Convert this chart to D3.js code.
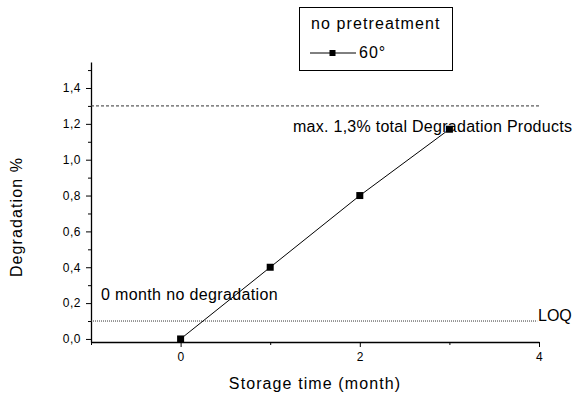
<!DOCTYPE html>
<html>
<head>
<meta charset="utf-8">
<script src="https://cdn.jsdelivr.net/npm/d3@7"></script>
<style>
  html, body { margin: 0; padding: 0; background: #fff; }
  svg { display: block; font-family: "Liberation Sans", Arial, sans-serif; }
</style>
</head>
<body>
<svg id="chart" width="574" height="396"></svg>
<script>
// Degradation over storage time, no pretreatment, 60°
const months = [0, 1, 2, 3];
const degradation = [0, 0.40, 0.80, 1.17];
const xMajorTicks = [0, 2, 4];
const xMinorTicks = [-1, 1, 3];
const yMajorTicks = [0, 0.2, 0.4, 0.6, 0.8, 1.0, 1.2, 1.4];
const yMinorTicks = [0.1, 0.3, 0.5, 0.7, 0.9, 1.1, 1.3, 1.5];
const limitMax = 1.3;   // max. total degradation products
const limitLOQ = 0.1;   // limit of quantification
const seriesName = "60°";
const legendTitle = "no pretreatment";

const svg = d3.select("#chart");

const x = d3.scaleLinear().domain([-1, 4]).range([91, 539]);
const y = d3.scaleLinear().domain([-0.017, 1.545]).range([342, 62]);

const fmtY = d => d.toFixed(1).replace(".", ",");
const fmtX = d3.format("d");

// axes
const gx = svg.append("g").attr("transform", `translate(0,${y.range()[0]})`);
gx.call(d3.axisBottom(x).tickValues(xMajorTicks).tickFormat(fmtX)
  .tickSize(5).tickSizeOuter(0).tickPadding(5));
gx.append("g").call(d3.axisBottom(x).tickValues(xMinorTicks).tickSize(3).tickFormat(""))
  .select(".domain").remove();

const gy = svg.append("g").attr("transform", `translate(${x.range()[0]},0)`);
gy.call(d3.axisLeft(y).tickValues(yMajorTicks).tickFormat(fmtY)
  .tickSize(5).tickSizeOuter(0).tickPadding(5));
gy.append("g").call(d3.axisLeft(y).tickValues(yMinorTicks).tickSize(3).tickFormat(""))
  .select(".domain").remove();

svg.selectAll(".domain").attr("stroke", "#000").attr("stroke-width", 1.3);
svg.selectAll(".tick line").attr("stroke", "#000").attr("stroke-width", 1);
svg.selectAll(".tick text")
  .attr("font-family", "Liberation Sans, Arial, sans-serif")
  .attr("font-size", 12).attr("letter-spacing", 0.5).attr("fill", "#000");

// reference lines
svg.append("line")
  .attr("x1", x(-1)).attr("x2", x(4))
  .attr("y1", y(limitMax)).attr("y2", y(limitMax))
  .attr("stroke", "#333").attr("stroke-width", 1).attr("stroke-dasharray", "3,2");
svg.append("line")
  .attr("x1", x(-1)).attr("x2", x(3.98))
  .attr("y1", y(limitLOQ)).attr("y2", y(limitLOQ))
  .attr("stroke", "#333").attr("stroke-width", 1).attr("stroke-dasharray", "1,1");

// series
const line = d3.line().x((d, i) => x(months[i])).y(d => y(d));
svg.append("path").datum(degradation)
  .attr("d", line).attr("fill", "none").attr("stroke", "#000").attr("stroke-width", 1);
svg.selectAll("rect.pt").data(degradation).join("rect")
  .attr("class", "pt")
  .attr("x", (d, i) => x(months[i]) - 3.5).attr("y", d => y(d) - 3.5)
  .attr("width", 7).attr("height", 7).attr("fill", "#000");

// annotations
const txt = (s, xx, yy, opts = {}) => svg.append("text")
  .attr("x", xx).attr("y", yy).attr("font-size", opts.size || 16)
  .attr("letter-spacing", opts.ls == null ? 0.3 : opts.ls)
  .attr("text-anchor", opts.anchor || "start").attr("fill", "#000").text(s);

txt("max. 1,3% total Degradation Products", 293, 132, { ls: 0.27 });
txt("0 month no degradation", 101, 300, { ls: 0.36 });
txt("LOQ", 538, 321, { ls: 0 });

// axis titles
txt("Storage time (month)", 315, 389, { anchor: "middle", ls: 1.1 });
svg.append("text")
  .attr("transform", "translate(22,217) rotate(-90)")
  .attr("text-anchor", "middle").attr("font-size", 16).attr("letter-spacing", 1.1)
  .attr("fill", "#000").text("Degradation %");

// legend
const lg = svg.append("g");
lg.append("rect").attr("x", 299.5).attr("y", 7.5).attr("width", 153).attr("height", 63)
  .attr("fill", "#fff").attr("stroke", "#000").attr("stroke-width", 1);
lg.append("text").attr("x", 311).attr("y", 29).attr("font-size", 16)
  .attr("letter-spacing", 1.1).attr("fill", "#000").text(legendTitle);
lg.append("line").attr("x1", 310).attr("x2", 356).attr("y1", 53).attr("y2", 53)
  .attr("stroke", "#000").attr("stroke-width", 1);
lg.append("rect").attr("x", 329.5).attr("y", 50).attr("width", 6).attr("height", 6).attr("fill", "#000");
lg.append("text").attr("x", 359).attr("y", 58).attr("font-size", 16)
  .attr("letter-spacing", 1).attr("fill", "#000").text(seriesName);
</script>
</body>
</html>
